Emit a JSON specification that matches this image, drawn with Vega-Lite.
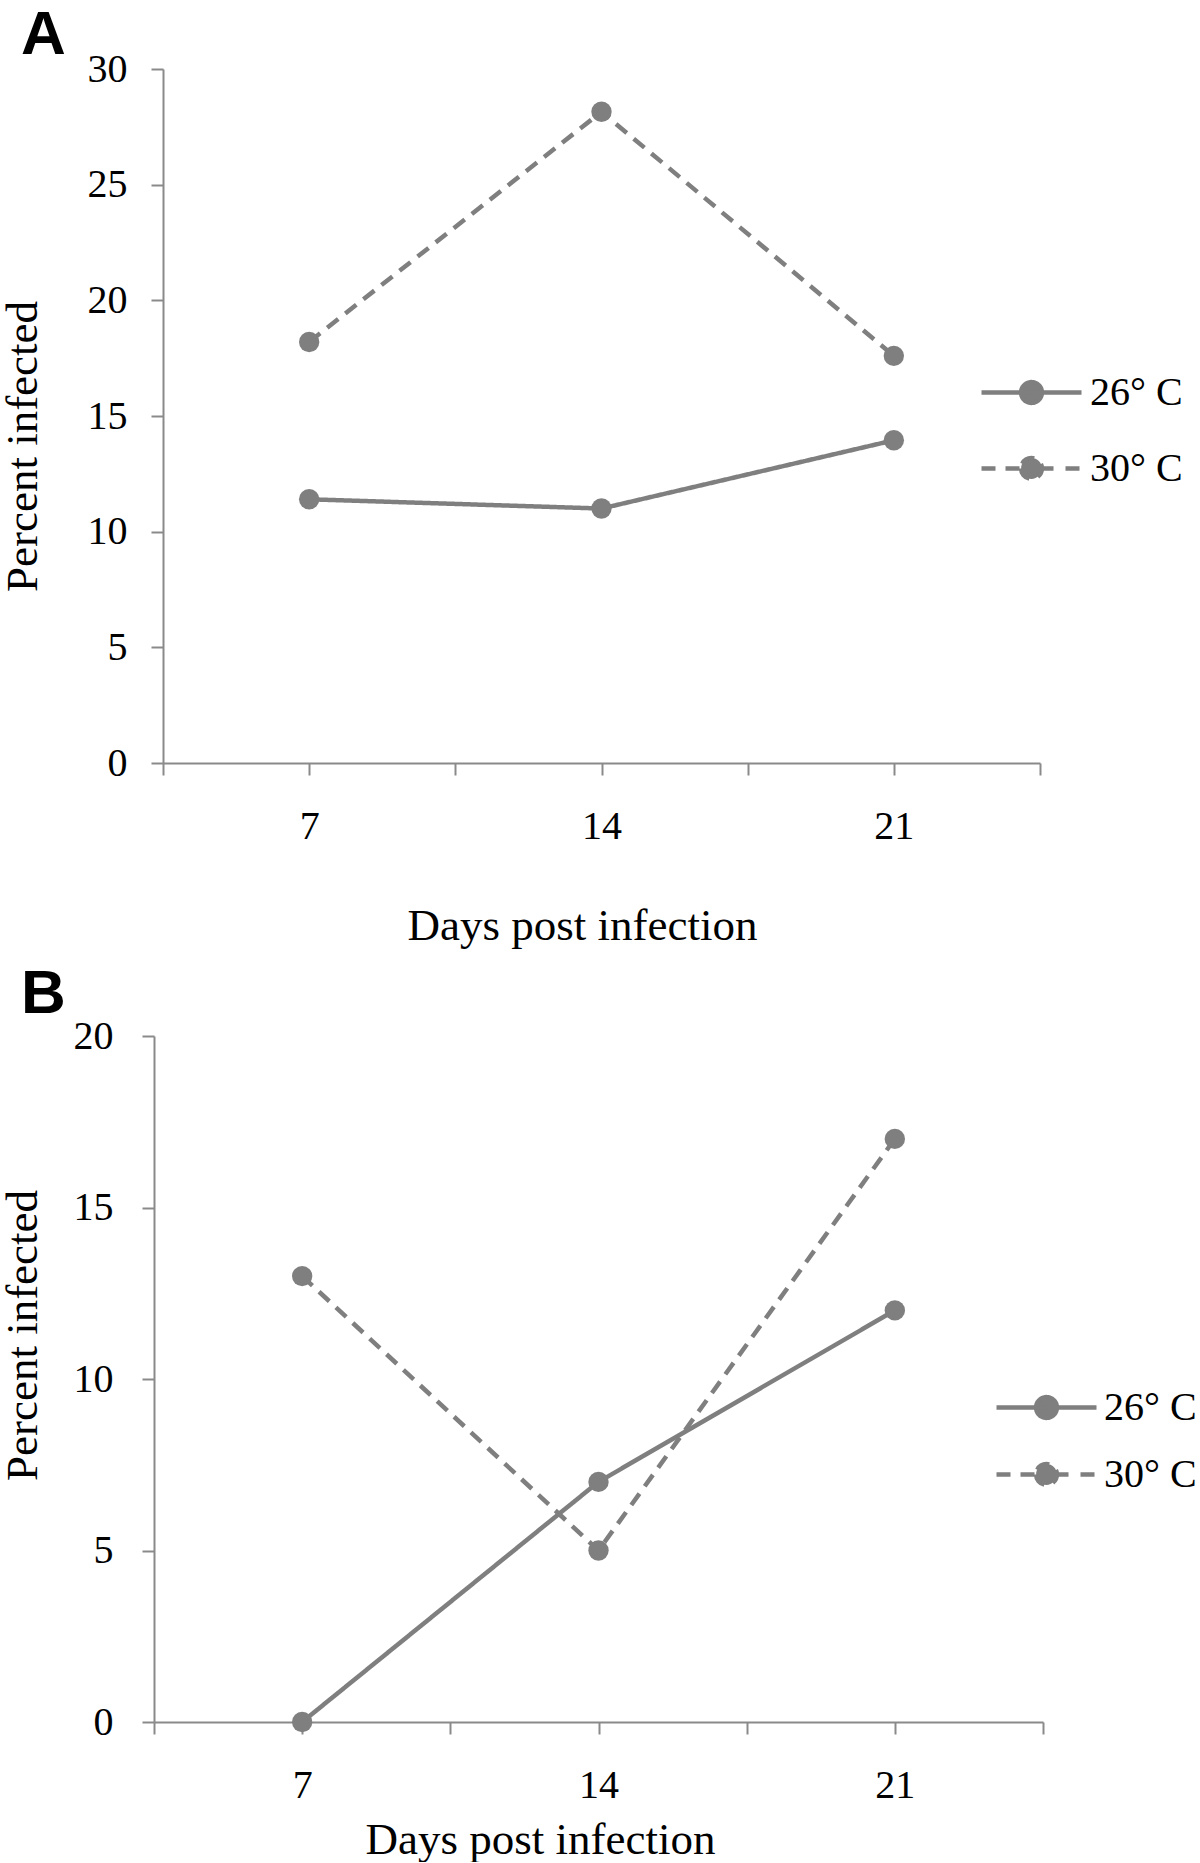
{
  "$schema": "https://vega.github.io/schema/vega-lite/v6.json",
  "padding": {"left": 0, "top": 4, "right": 0, "bottom": 0},
  "background": "white",
  "config": {
    "view": {"stroke": null},
    "font": "Liberation Serif",
    "axis": {
      "domainColor": "#8a8a8a", "tickColor": "#8a8a8a", "domainWidth": 2, "tickWidth": 2,
      "grid": false, "labelColor": "#000", "titleColor": "#000",
      "labelFont": "Liberation Serif", "titleFont": "Liberation Serif",
      "labelFontSize": 40, "titleFontSize": 45, "titleFontWeight": "normal", "tickSize": 12
    },
    "title": {"font": "Liberation Sans", "fontSize": 62, "fontWeight": "bold", "anchor": "start", "frame": "group", "color": "#000"},
    "legend": {
      "title": null, "orient": "none", "padding": 0,
      "symbolType": "M-2.5,0H2.5",
      "symbolSize": 1600, "symbolStrokeWidth": 4.5, "symbolStrokeColor": "#7f7f7f", "symbolFillColor": "#7f7f7f",
      "labelFont": "Liberation Serif", "labelFontSize": 40, "labelColor": "#000", "labelLimit": 300
    }
  },
  "spacing": 15,
  "resolve": {
    "scale": {"x": "independent", "y": "independent", "strokeDash": "independent"},
    "legend": {"strokeDash": "independent"}
  },
  "vconcat": [
    {
      "title": {"text": "A", "dx": -142, "dy": 22},
      "width": 877,
      "height": 694,
      "data": {"values": [
        {"day": 7, "temp": "26° C", "pct": 11.4},
        {"day": 14, "temp": "26° C", "pct": 11.0},
        {"day": 21, "temp": "26° C", "pct": 13.95},
        {"day": 7, "temp": "30° C", "pct": 18.2},
        {"day": 14, "temp": "30° C", "pct": 28.15},
        {"day": 21, "temp": "30° C", "pct": 17.6}
      ]},
      "layer": [
        {
          "mark": {"type": "line", "color": "#7f7f7f", "strokeWidth": 4.5},
          "encoding": {
            "x": {"field": "day", "type": "quantitative",
              "scale": {"domain": [3.5, 24.5], "nice": false, "zero": false},
              "axis": {"values": [3.5, 7, 10.5, 14, 17.5, 21, 24.5],
                "labelExpr": "(datum.value == 7 || datum.value == 14 || datum.value == 21) ? datum.label : ''",
                "labelPadding": 31, "labelFlush": false,
                "title": "Days post infection", "titleX": 419, "titleY": 176, "titleBaseline": "alphabetic", "titleAlign": "center"}},
            "y": {"field": "pct", "type": "quantitative",
              "scale": {"domain": [0, 30], "nice": false},
              "axis": {"values": [0, 5, 10, 15, 20, 25, 30], "labelPadding": 24,
                "title": "Percent infected", "titleX": -127, "titleY": 377, "titleAngle": 270, "titleBaseline": "alphabetic", "titleAlign": "center"}},
            "strokeDash": {"field": "temp", "type": "nominal",
              "scale": {"domain": ["26° C", "30° C"], "range": [[1, 0], [14, 9]]},
              "legend": {"legendX": 846, "legendY": 301, "labelOffset": 36, "rowPadding": 33,
                "encode": {"symbols": {"update": {
                  "fill": {"value": "#7f7f7f"}, "stroke": {"value": "#7f7f7f"},
                  "strokeDash": {"value": [1, 0]},
                  "shape": {"signal": "datum.value == '30° C' ? 'M-2.5,0H-1.7M-1.3,0H-0.4M0.4,0H1.3M1.7,0H2.5M-0.52,0A0.52,0.52,0,1,0,0.52,0A0.52,0.52,0,1,0,-0.52,0Z' : 'M-2.5,0H2.5M-0.52,0A0.52,0.52,0,1,0,0.52,0A0.52,0.52,0,1,0,-0.52,0Z'"}
                }}}}}
          }
        },
        {
          "mark": {"type": "point", "filled": true, "size": 415, "color": "#7f7f7f", "opacity": 1},
          "encoding": {
            "x": {"field": "day", "type": "quantitative"},
            "y": {"field": "pct", "type": "quantitative"}
          }
        }
      ]
    },
    {
      "title": {"text": "B", "dx": -142, "dy": 14},
      "width": 880,
      "height": 686,
      "data": {"values": [
        {"day": 7, "temp": "26° C", "pct": 0},
        {"day": 14, "temp": "26° C", "pct": 7},
        {"day": 21, "temp": "26° C", "pct": 12},
        {"day": 7, "temp": "30° C", "pct": 13},
        {"day": 14, "temp": "30° C", "pct": 5},
        {"day": 21, "temp": "30° C", "pct": 17}
      ]},
      "layer": [
        {
          "mark": {"type": "line", "color": "#7f7f7f", "strokeWidth": 4.5},
          "encoding": {
            "x": {"field": "day", "type": "quantitative",
              "scale": {"domain": [3.5, 24.5], "nice": false, "zero": false, "range": [-9, 880]},
              "axis": {"values": [3.5, 7, 10.5, 14, 17.5, 21, 24.5],
                "labelExpr": "(datum.value == 7 || datum.value == 14 || datum.value == 21) ? datum.label : ''",
                "labelPadding": 31, "labelFlush": false,
                "title": "Days post infection", "titleX": 377, "titleY": 131, "titleBaseline": "alphabetic", "titleAlign": "center"}},
            "y": {"field": "pct", "type": "quantitative",
              "scale": {"domain": [0, 20], "nice": false},
              "axis": {"values": [0, 5, 10, 15, 20], "labelPadding": 29, "offset": 9,
                "title": "Percent infected", "titleX": -118, "titleY": 299, "titleAngle": 270, "titleBaseline": "alphabetic", "titleAlign": "center"}},
            "strokeDash": {"field": "temp", "type": "nominal",
              "scale": {"domain": ["26° C", "30° C"], "range": [[1, 0], [14, 9]]},
              "legend": {"legendX": 861, "legendY": 349, "labelOffset": 35, "rowPadding": 24,
                "encode": {"symbols": {"update": {
                  "fill": {"value": "#7f7f7f"}, "stroke": {"value": "#7f7f7f"},
                  "strokeDash": {"value": [1, 0]},
                  "shape": {"signal": "datum.value == '30° C' ? 'M-2.5,0H-1.7M-1.3,0H-0.4M0.4,0H1.3M1.7,0H2.5M-0.52,0A0.52,0.52,0,1,0,0.52,0A0.52,0.52,0,1,0,-0.52,0Z' : 'M-2.5,0H2.5M-0.52,0A0.52,0.52,0,1,0,0.52,0A0.52,0.52,0,1,0,-0.52,0Z'"}
                }}}}}
          }
        },
        {
          "mark": {"type": "point", "filled": true, "size": 415, "color": "#7f7f7f", "opacity": 1},
          "encoding": {
            "x": {"field": "day", "type": "quantitative"},
            "y": {"field": "pct", "type": "quantitative"}
          }
        }
      ]
    }
  ]
}
